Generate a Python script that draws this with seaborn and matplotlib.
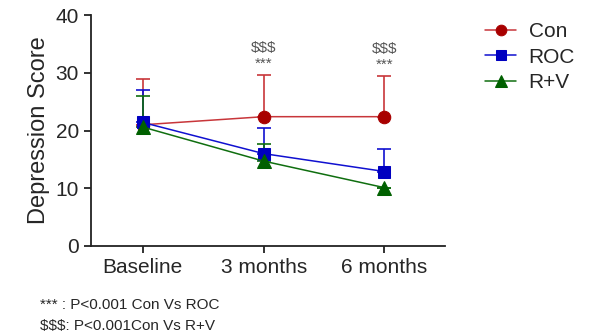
import numpy as np
import pandas as pd
import matplotlib
matplotlib.use("Agg")
import matplotlib.pyplot as plt
import seaborn as sns

# data
timepoints = ["Baseline", "3 months", "6 months"]
groups = ["Con", "ROC", "R+V"]
con_mean = [21.0, 22.4, 22.4]
con_upper = [29.0, 29.6, 29.4]
roc_mean = [21.4, 16.0, 12.9]
roc_upper = [27.0, 20.4, 16.8]
rv_mean = [20.6, 14.7, 10.1]
rv_upper = [26.0, 17.6, 10.1]
sig_labels = ["", "$$$\n***", "$$$\n***"]

colors = {"Con": "#C8363A", "ROC": "#1010D0", "R+V": "#0F6E0F"}
marker_colors = {"Con": "#A80000", "ROC": "#0000C0", "R+V": "#006000"}
markers = {"Con": "o", "ROC": "s", "R+V": "^"}
msize = {"Con": 9, "ROC": 9, "R+V": 10}

sns.set_style("white")
plt.rcParams['font.family'] = ['Liberation Sans', 'DejaVu Sans']

df = pd.DataFrame({
    "time": np.tile(np.arange(len(timepoints)), len(groups)),
    "group": np.repeat(groups, len(timepoints)),
    "score": con_mean + roc_mean + rv_mean,
    "upper": con_upper + roc_upper + rv_upper,
})

fig = plt.figure(figsize=(5.94, 3.36), dpi=100)
ax = fig.add_axes([0.153, 0.268, 0.596, 0.687])

# upper-only error bars
for g in groups:
    sub = df[df.group == g]
    err = np.vstack([np.zeros(len(sub)), sub.upper.values - sub.score.values])
    ax.errorbar(sub.time, sub.score, yerr=err, fmt="none", ecolor=colors[g],
                elinewidth=1.2, capsize=5, capthick=1.2, zorder=2)

for g in groups:
    sub = df[df.group == g]
    sns.lineplot(x=sub.time, y=sub.score, ax=ax, color=colors[g], lw=1.1,
                 marker=markers[g], markersize=msize[g], markerfacecolor=marker_colors[g],
                 markeredgecolor=marker_colors[g], label=g, zorder=3)

for i, s in enumerate(sig_labels):
    if s:
        ax.text(i, max(con_upper[i], roc_upper[i]) + 0.8, s, ha="center", va="bottom",
                fontsize=11, color="#555555", linespacing=1.15)

ax.set_xlim(-0.43, 2.5)
ax.set_ylim(0, 40)
ax.set_yticks([0, 10, 20, 30, 40])
ax.set_xticks(range(len(timepoints)))
ax.set_xticklabels(timepoints)
ax.tick_params(axis="both", labelsize=15, length=5, width=1.3, color="#222222",
               direction="out", bottom=True, left=True)
ax.set_xlabel("")
ax.set_ylabel("Depression Score", fontsize=17, labelpad=4)
sns.despine(ax=ax)
for sp in ["left", "bottom"]:
    ax.spines[sp].set_linewidth(1.3)
    ax.spines[sp].set_color("#222222")

ax.legend(loc="upper left", bbox_to_anchor=(1.06, 1.05), frameon=False, fontsize=15,
          handlelength=1.5, labelspacing=0.3, handletextpad=0.6, markerscale=0.85)

fig.text(0.068, 0.093, "*** : P<0.001 Con Vs ROC", fontsize=11, va="center")
fig.text(0.068, 0.03, "$$$: P<0.001Con Vs R+V", fontsize=11, va="center")

fig.savefig("out.png", dpi=100)
